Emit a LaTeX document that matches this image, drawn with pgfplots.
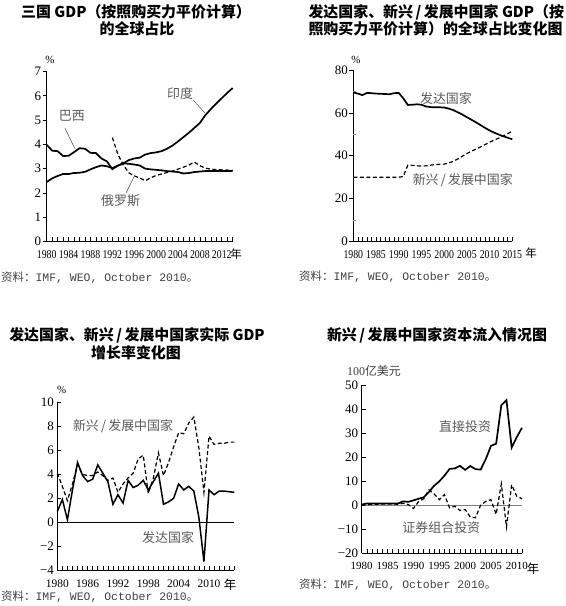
\documentclass[border=0pt]{standalone}
\usepackage{fontspec}
\setmainfont{Liberation Serif}
\setmonofont{Liberation Mono}
\newfontfamily\cjk{Noto Sans CJK SC}
\usepackage{graphicx}
\usepackage{pgfplots}
\pgfplotsset{compat=1.18}

\pgfplotsset{
  panel/.style={
    scale only axis, anchor=south west, clip=false,
    axis lines*=left, axis line style={-, line width=0.8bp},
    tick align=inside, tick pos=left,
    major tick length=4bp, minor tick length=4bp,
    tick style={black, line width=0.6bp},
  },
  solidline/.style={black, line width=1.7bp, mark=none},
  dashline/.style={black, line width=1.2bp, mark=none, dash pattern=on 4bp off 2.5bp},
  leader/.style={black!70, line width=0.5bp, mark=none},
}
\newcommand\lab[1]{{\color{black!65}\cjk\fontsize{13}{13}\selectfont #1}}
\newcommand\src{{\color{black!75}\fontsize{11.5}{12}\selectfont\cjk 资料：\ttfamily IMF, WEO, October 2010\cjk 。}}
\newcommand\ttl{\cjk\bfseries\fontsize{15}{17}\selectfont}
% narrow year labels under the top two panels
\newcommand\yr[1]{\scalebox{0.82}[1]{#1}}

\begin{document}
\begin{tikzpicture}
\path[use as bounding box] (0bp,0bp) rectangle (566bp,606bp);

% ---------- titles, units and sources ----------
\node[font=\ttl] at (136bp,594bp) {三国 GDP（按照购买力平价计算）};
\node[font=\ttl] at (137bp,577bp) {的全球占比};
\node[font=\ttl, anchor=west] at (305bp,594bp) {发达国家、新兴\,/\,发展中国家 GDP（按};
\node[font=\ttl, anchor=west] at (305bp,577bp) {照购买力平价计算）的全球占比变化图};
\node[font=\ttl] at (137bp,271bp) {发达国家、新兴\,/\,发展中国家实际 GDP};
\node[font=\ttl] at (136bp,253bp) {增长率变化图};
\node[font=\ttl] at (437bp,271bp) {新兴\,/\,发展中国家资本流入情况图};

\node[anchor=west, inner sep=0] at (1bp,328bp) {\src};
\node[anchor=west, inner sep=0] at (299bp,329bp) {\src};
\node[anchor=west, inner sep=0] at (1bp,9bp) {\src};
\node[anchor=west, inner sep=0] at (299bp,21bp) {\src};

\node[font=\fontsize{11}{11}\selectfont] at (50bp,546bp) {\%};
\node[font=\fontsize{11}{11}\selectfont] at (356bp,546bp) {\%};
\node[font=\fontsize{11}{11}\selectfont] at (61.7bp,216bp) {\%};
\node[font=\fontsize{12}{12}\selectfont\color{black!75}] at (374bp,235bp) {100{\cjk 亿美元}};

\node[font=\cjk\fontsize{11.5}{12}\selectfont] at (236bp,352bp) {年};
\node[font=\cjk\fontsize{11.5}{12}\selectfont] at (531bp,352.5bp) {年};
\node[font=\cjk\fontsize{12.5}{13}\selectfont] at (230bp,21bp) {年};
\node[font=\cjk\fontsize{12.5}{13}\selectfont] at (533bp,37.7bp) {年};

% ---------- panel 1: Brazil, India, Russia ----------
\begin{axis}[panel, at={(46.7bp,364.5bp)}, width=186bp, height=170bp,
  xmin=1980, xmax=2014, ymin=0, ymax=7,
  xtick={1980,1984,1988,1992,1996,2000,2004,2008,2012},
  xticklabels={\yr{1980},\yr{1984},\yr{1988},\yr{1992},\yr{1996},\yr{2000},\yr{2004},\yr{2008},\yr{2012}},
  minor xtick={1980,...,2014},
  ytick={0,1,2,3,4,5,6,7}, yticklabels={0,1,2,3,4,5,6,7},
  ytick style={xshift=-4bp},
  xticklabel style={font=\fontsize{12}{12}\selectfont, yshift=-6bp},
  yticklabel style={font=\fontsize{13}{13}\selectfont, xshift=-2bp}]
\addplot[solidline] coordinates {
 (1980,2.45) (1981,2.60) (1982,2.70) (1983,2.78) (1984,2.78) (1985,2.82)
 (1986,2.83) (1987,2.87) (1988,2.97) (1989,3.06) (1990,3.13) (1991,3.10)
 (1992,3.02) (1993,3.12) (1994,3.22) (1995,3.35) (1996,3.42) (1997,3.45)
 (1998,3.58) (1999,3.64) (2000,3.67) (2001,3.72) (2002,3.82) (2003,3.95)
 (2004,4.12) (2005,4.30) (2006,4.48) (2007,4.68) (2008,4.88) (2009,5.20)
 (2010,5.45) (2011,5.68) (2012,5.90) (2013,6.12) (2014,6.32)};
\addplot[solidline] coordinates {
 (1980,3.98) (1981,3.74) (1982,3.72) (1983,3.52) (1984,3.53) (1985,3.68)
 (1986,3.84) (1987,3.82) (1988,3.65) (1989,3.64) (1990,3.42) (1991,3.30)
 (1992,2.98) (1993,3.12) (1994,3.22) (1995,3.20) (1996,3.17) (1997,3.13)
 (1998,3.00) (1999,2.97) (2000,2.95) (2001,2.93) (2002,2.90) (2003,2.88)
 (2004,2.86) (2005,2.80) (2006,2.82) (2007,2.86) (2008,2.88) (2009,2.90)
 (2010,2.90) (2011,2.90) (2012,2.90) (2013,2.90) (2014,2.90)};
\addplot[dashline] coordinates {
 (1992,4.28) (1993,3.60) (1994,3.15) (1995,2.83) (1996,2.70) (1997,2.62)
 (1998,2.50) (1999,2.62) (2000,2.72) (2001,2.78) (2002,2.84) (2003,2.90)
 (2004,2.98) (2005,3.06) (2006,3.15) (2007,3.27) (2008,3.12) (2009,3.02)
 (2010,2.98) (2011,2.96) (2012,2.95) (2013,2.94) (2014,2.93)};
% label leaders
\addplot[leader] coordinates {(2006.8,5.82) (2008.9,5.3)};
\addplot[leader] coordinates {(1983.3,4.68) (1985.2,3.8)};
\addplot[leader] coordinates {(1994.5,2.0) (1996.1,2.72)};
\node at (axis cs:2004.4,6.1) {\lab{印度}};
\node at (axis cs:1984.6,5.17) {\lab{巴西}};
\node at (axis cs:1993.5,1.67) {\lab{俄罗斯}};
\end{axis}

% ---------- panel 2: advanced vs emerging share ----------
\begin{axis}[panel, at={(353.3bp,364.5bp)}, width=159bp, height=171.5bp,
  xmin=1980, xmax=2015, ymin=0, ymax=80,
  xtick={1980,1985,1990,1995,2000,2005,2010,2015},
  xticklabels={\yr{1980},\yr{1985},\yr{1990},\yr{1995},\yr{2000},\yr{2005},\yr{2010},\yr{2015}},
  minor xtick={1980,...,2015},
  ytick={0,20,40,60,80}, yticklabels={0,20,40,60,80},
  ytick style={xshift=-4bp},
  extra y ticks={10,30,50,70}, extra y tick labels={},
  extra y tick style={ytick style={xshift=4bp}, tick style={black!40}, major tick length=3bp},
  xticklabel style={font=\fontsize{12}{12}\selectfont, yshift=-6bp},
  yticklabel style={font=\fontsize{13}{13}\selectfont, xshift=-2bp}]
\addplot[solidline] coordinates {
 (1980,69.5) (1981,69.0) (1982,68.3) (1983,69.3) (1984,69.2) (1985,69.0)
 (1986,68.9) (1987,68.8) (1988,68.7) (1989,69.2) (1990,69.3) (1991,66.8)
 (1992,63.7) (1993,63.8) (1994,64.0) (1995,63.8) (1996,63.0) (1997,62.7)
 (1998,62.6) (1999,62.6) (2000,62.5) (2001,62.0) (2002,61.3) (2003,60.3)
 (2004,59.2) (2005,58.0) (2006,56.8) (2007,55.6) (2008,54.3) (2009,53.0)
 (2010,51.8) (2011,50.8) (2012,49.9) (2013,49.1) (2014,48.4) (2015,47.7)};
\addplot[dashline] coordinates {
 (1980,30.0) (1981,30.0) (1982,30.0) (1983,30.0) (1984,30.0) (1985,30.0)
 (1986,30.0) (1987,30.0) (1988,30.0) (1989,30.0) (1990,30.0) (1991,30.3)
 (1992,35.6) (1993,35.5) (1994,35.3) (1995,35.2) (1996,35.3) (1997,35.6)
 (1998,35.9) (1999,36.0) (2000,36.1) (2001,36.6) (2002,37.4) (2003,38.5)
 (2004,39.8) (2005,41.0) (2006,42.1) (2007,43.1) (2008,44.1) (2009,45.2)
 (2010,46.3) (2011,47.3) (2012,48.2) (2013,49.2) (2014,50.3) (2015,51.5)};
\node at (axis cs:2000.4,66.9) {\lab{发达国家}};
\node at (axis cs:2004.1,28.7) {\lab{新兴\,/\,发展中国家}};
\end{axis}

% ---------- panel 3: real GDP growth ----------
\begin{axis}[panel, at={(57.3bp,36bp)}, width=177bp, height=167.3bp,
  xmin=1980, xmax=2015, ymin=-4, ymax=10,
  xtick={1980,1986,1992,1998,2004,2010},
  xticklabels={1980,1986,1992,1998,2004,2010},
  minor xtick={1980,...,2015},
  ytick={-4,-2,0,2,4,6,8,10}, yticklabels={−4,−2,0,2,4,6,8,10},
  xticklabel style={font=\fontsize{11.5}{12}\selectfont, yshift=-6bp},
  yticklabel style={font=\fontsize{13}{13}\selectfont}]
\addplot[black, line width=0.8bp, mark=none] coordinates {(1980,0) (2015,0)};
\addplot[dashline] coordinates {
 (1980,4.1) (1981,3.0) (1982,1.8) (1983,3.2) (1984,4.8) (1985,4.0)
 (1986,3.9) (1987,3.9) (1988,4.2) (1989,3.9) (1990,3.5) (1991,3.7)
 (1992,2.5) (1993,3.2) (1994,3.7) (1995,4.1) (1996,5.3) (1997,5.6)
 (1998,2.4) (1999,3.7) (2000,5.8) (2001,3.9) (2002,5.0) (2003,6.3)
 (2004,7.5) (2005,7.4) (2006,8.3) (2007,8.8) (2008,6.2) (2009,2.5)
 (2010,7.2) (2011,6.5) (2012,6.6) (2013,6.6) (2014,6.7) (2015,6.7)};
\addplot[solidline, line width=1.5bp] coordinates {
 (1980,0.9) (1981,1.9) (1982,0.2) (1983,2.7) (1984,5.0) (1985,3.9)
 (1986,3.4) (1987,3.6) (1988,4.8) (1989,4.1) (1990,3.4) (1991,1.5)
 (1992,2.3) (1993,1.6) (1994,3.5) (1995,2.9) (1996,3.1) (1997,3.5)
 (1998,2.7) (1999,3.4) (2000,4.1) (2001,1.5) (2002,1.7) (2003,2.0)
 (2004,3.2) (2005,2.7) (2006,3.0) (2007,2.6) (2008,0.4) (2009,-3.3)
 (2010,2.7) (2011,2.3) (2012,2.6) (2013,2.6) (2014,2.55) (2015,2.5)};
\node at (axis cs:1993.0,8.0) {\lab{新兴\,/\,发展中国家}};
\node at (axis cs:2001.9,-1.3) {\lab{发达国家}};
\end{axis}

% ---------- panel 4: capital inflows ----------
\begin{axis}[panel, at={(361.7bp,52.7bp)}, width=160.3bp, height=168.3bp,
  xmin=1980, xmax=2011, ymin=-20, ymax=50,
  xtick={1980,1985,1990,1995,2000,2005,2010},
  xticklabels={1980,1985,1990,1995,2000,2005,2010},
  minor xtick={1980,...,2011},
  ytick={-20,-10,0,10,20,30,40,50}, yticklabels={−20,−10,0,10,20,30,40,50},
  xticklabel style={font=\fontsize{11}{12}\selectfont, yshift=-5bp},
  yticklabel style={font=\fontsize{13}{13}\selectfont}]
\addplot[black!50, line width=0.8bp, mark=none] coordinates {(1980,0) (2011,0)};
\addplot[solidline] coordinates {
 (1980,0.3) (1981,0.7) (1982,0.7) (1983,0.7) (1984,0.7) (1985,0.7)
 (1986,0.7) (1987,0.7) (1988,1.6) (1989,1.4) (1990,2.0) (1991,2.7)
 (1992,3.3) (1993,5.5) (1994,8.1) (1995,9.9) (1996,12.3) (1997,15.1)
 (1998,15.3) (1999,16.4) (2000,14.7) (2001,16.3) (2002,15.0) (2003,14.8)
 (2004,19.2) (2005,24.7) (2006,25.6) (2007,41.6) (2008,43.7) (2009,24.0)
 (2010,28.4) (2011,32.2)};
\addplot[dashline] coordinates {
 (1980,-0.1) (1981,0.2) (1982,0.3) (1983,0.4) (1984,0.5) (1985,0.5)
 (1986,0.5) (1987,0.4) (1988,0.8) (1989,0.3) (1990,-1.4) (1991,1.5)
 (1992,2.7) (1993,6.4) (1994,4.7) (1995,2.3) (1996,4.4) (1997,-1.1)
 (1998,-0.4) (1999,-2.2) (2000,-1.8) (2001,-4.9) (2002,-5.2) (2003,0.0)
 (2004,1.6) (2005,2.3) (2006,-3.8) (2007,8.8) (2008,-9.0) (2009,8.5)
 (2010,3.7) (2011,2.7)};
\node at (axis cs:2000,32.8) {\lab{直接投资}};
\node at (axis cs:1995.4,-9.2) {\lab{证券组合投资}};
\end{axis}
\end{tikzpicture}
\end{document}
